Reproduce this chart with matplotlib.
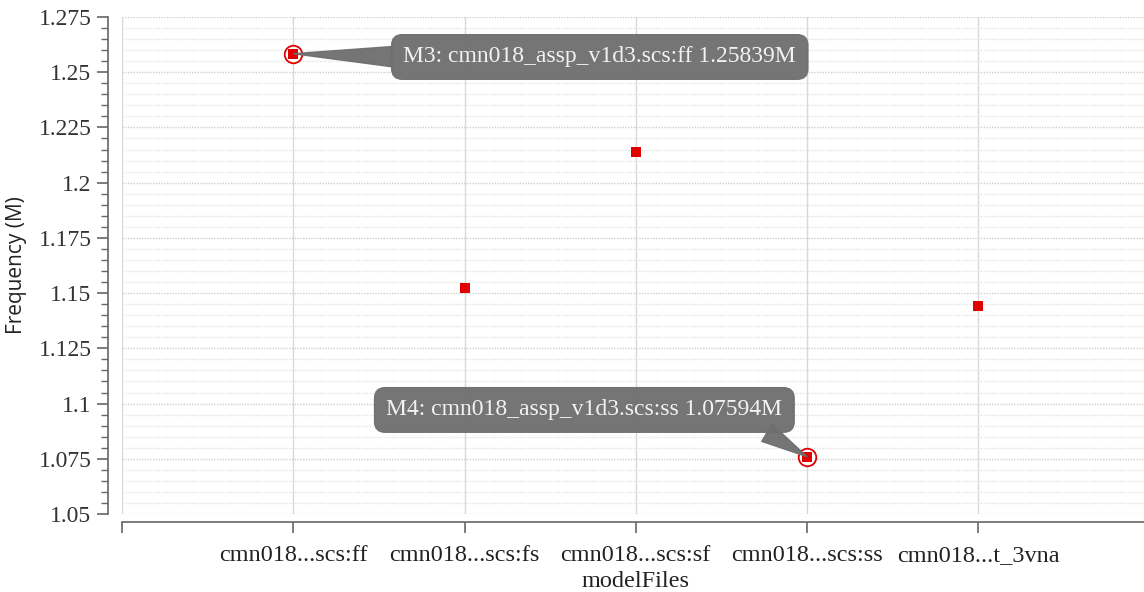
import matplotlib
matplotlib.use("Agg")
import matplotlib.pyplot as plt
from matplotlib.ticker import MultipleLocator, FixedLocator

# --- data ---
categories = ["cmn018...scs:ff", "cmn018...scs:fs", "cmn018...scs:sf",
              "cmn018...scs:ss", "cmn018...t_3vna"]
freq_m = [1.25839, 1.1523, 1.2139, 1.07594, 1.1442]

# markers: (index, label text, text position in data coords, arrow anchor on box)
marker_idx = [0, 3]
marker_text = ["M3: cmn018_assp_v1d3.scs:ff 1.25839M",
               "M4: cmn018_assp_v1d3.scs:ss 1.07594M"]
marker_text_pos = [(1.79, 1.2569), (1.70, 1.0971)]
marker_relpos = [(0.0, 0.5), (0.9, 0.1)]

plt.rcParams["font.family"] = "Liberation Serif"
red = "#e00000"
box_gray = "#6e6e6e"

fig = plt.figure(figsize=(11.44, 5.92), dpi=100)
ax = fig.add_axes([122 / 1144, 78 / 592, 1027.5 / 1144, 497 / 592])

x = list(range(len(categories)))
ax.scatter(x, freq_m, marker="s", s=45, color=red, zorder=5, linewidths=0)

# highlighted marker rings
for i in marker_idx:
    ax.scatter([i], [freq_m[i]], marker="o", s=160, facecolor="white",
               edgecolor=red, linewidths=1.3, zorder=4)

for i, txt, pos, rp in zip(marker_idx, marker_text, marker_text_pos, marker_relpos):
    ax.annotate(txt, xy=(i, freq_m[i]), xytext=pos, textcoords="data",
                ha="center", va="center", fontsize=17, color="#f2f2f2",
                zorder=6,
                bbox=dict(boxstyle="round,pad=0.5,rounding_size=0.45",
                          fc=box_gray, ec=box_gray, alpha=0.95),
                arrowprops=dict(arrowstyle="wedge,tail_width=0.85,shrink_factor=0.5",
                                fc=box_gray, ec=box_gray, alpha=0.95,
                                relpos=rp, shrinkA=0, shrinkB=0))

# --- axes ---
ax.set_xlim(-1, 5)
ax.set_ylim(1.05, 1.275)
ax.xaxis.set_major_locator(FixedLocator([-1, 0, 1, 2, 3, 4, 5]))
ax.set_xticklabels([""] + categories + [""])
ax.yaxis.set_minor_locator(MultipleLocator(0.005))
ax.set_yticks([1.05, 1.075, 1.1, 1.125, 1.15, 1.175, 1.2, 1.225, 1.25, 1.275])
ax.set_yticklabels(["1.05", "1.075", "1.1", "1.125", "1.15", "1.175", "1.2",
                    "1.225", "1.25", "1.275"])

for s in ["top", "right"]:
    ax.spines[s].set_visible(False)
ax.spines["left"].set_position(("outward", 10))
ax.spines["bottom"].set_position(("outward", 6))
for s in ["left", "bottom"]:
    ax.spines[s].set_color("#666666")
    ax.spines[s].set_linewidth(1.2)

ax.tick_params(axis="y", which="major", length=8, width=1.2, color="#666666",
               pad=4, labelsize=17, labelcolor="#333333")
ax.tick_params(axis="y", which="minor", length=5, width=1.0, color="#666666")
ax.tick_params(axis="x", which="major", length=8, width=1.2, color="#666666",
               pad=8, labelsize=17.5, labelcolor="#222222")

ax.grid(axis="x", color="#d8d8d8", linewidth=1.0)
ax.grid(axis="y", which="major", color="#cfcfcf", linewidth=1.0, linestyle=(0, (1, 1)))
ax.grid(axis="y", which="minor", color="#e2e2e2", linewidth=1.0, linestyle=(0, (1, 1)))
ax.set_axisbelow(True)

ax.set_ylabel("Frequency (M)", family="Open Sans", fontsize=15, color="#222222",
              labelpad=8)
ax.set_xlabel("modelFiles", fontsize=17.5, color="#222222", labelpad=4)

fig.savefig("out.png", dpi=100)
